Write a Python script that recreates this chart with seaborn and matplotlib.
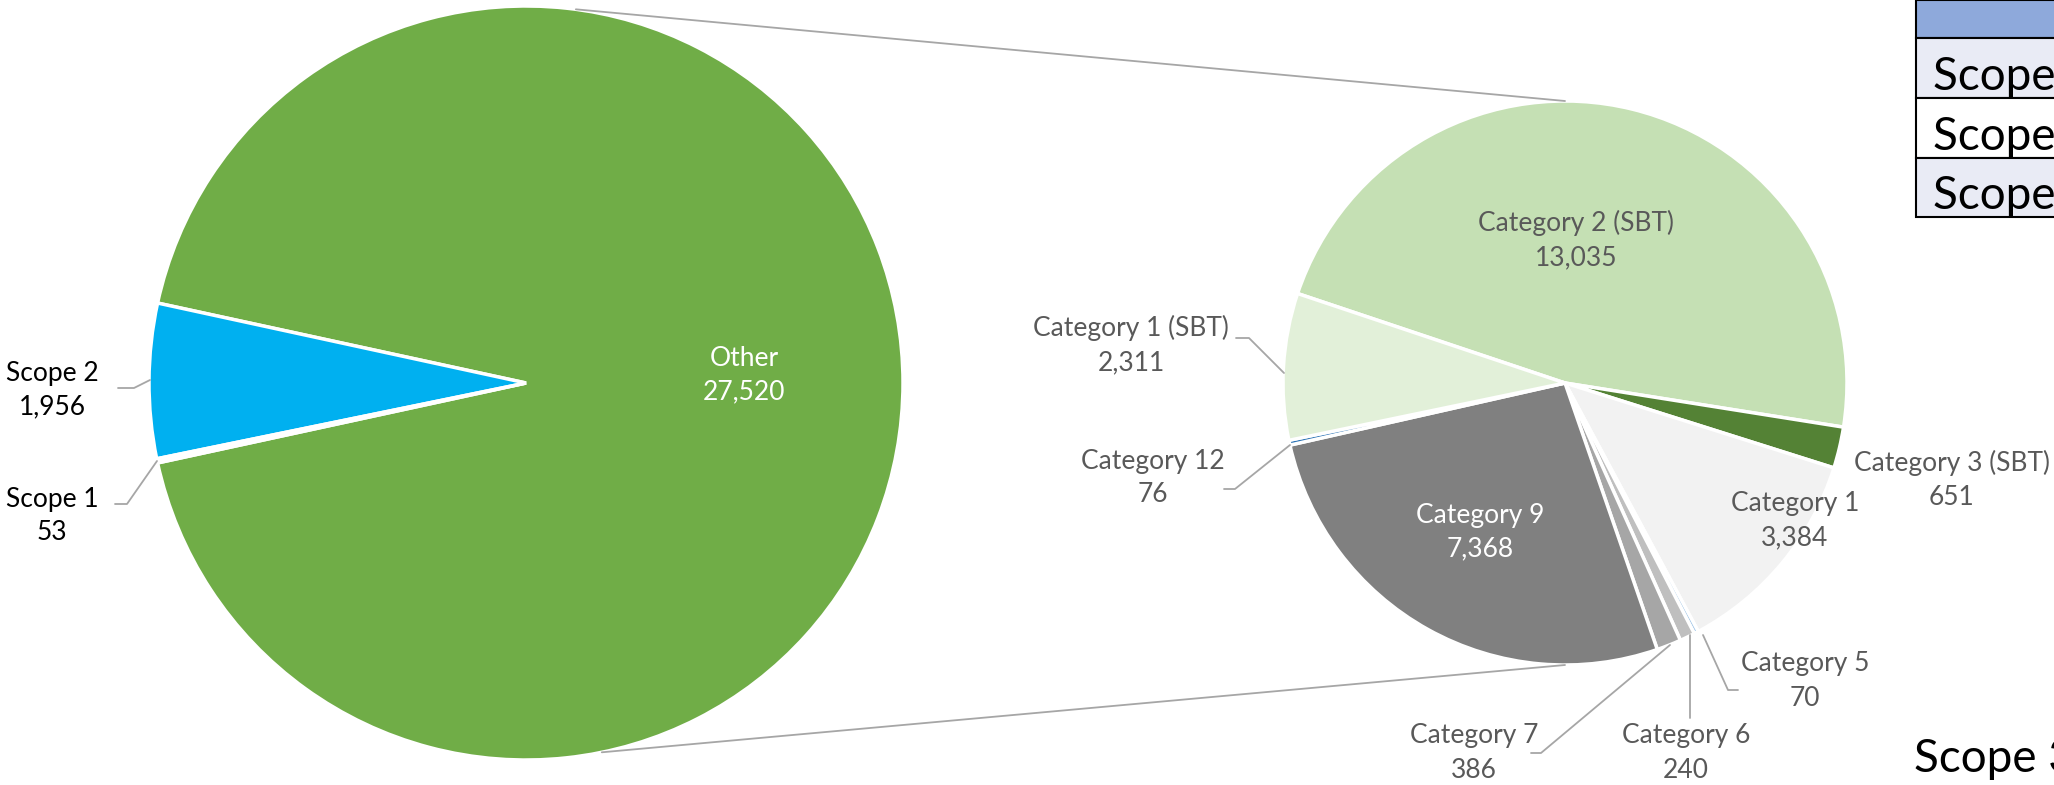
import numpy as np
import matplotlib.pyplot as plt
import seaborn as sns

sns.set_theme(style="white")
plt.rcParams['font.family'] = ['Lato', 'DejaVu Sans']

# data
scopes = ['Other', 'Scope 2', 'Scope 1']
scope_values = [27520, 1956, 53]
scope_colors = ['#70AD47', '#00B0F0', '#FFFFFF']

categories = ['Category 2 (SBT)', 'Category 3 (SBT)', 'Category 1', 'Category 5',
              'Category 6', 'Category 7', 'Category 9', 'Category 12', 'Category 1 (SBT)']
category_values = [13035, 651, 3384, 70, 240, 386, 7368, 76, 2311]
category_colors = ['#C5E0B4', '#548235', '#F2F2F2', '#9DC3E6',
                   '#BFBFBF', '#A6A6A6', '#808080', '#2E75B6', '#E2F0D9']

table_rows = ['Scope 1', 'Scope 2', 'Scope 3']

W, H = 2054, 785
fig = plt.figure(figsize=(W / 100, H / 100), dpi=100)
ax = fig.add_axes([0, 0, 1, 1])

def px(x, y):
    return x, H - y

c1, r1 = px(526, 383), 377
c2, r2 = px(1565, 383), 282

# main pie: "Other" wedge centred on the right
other_deg = 360 * scope_values[0] / sum(scope_values)
ax.pie(scope_values, colors=scope_colors, center=c1, radius=r1,
       startangle=-other_deg / 2, counterclock=True,
       wedgeprops=dict(edgecolor='white', linewidth=2.5))

# secondary pie: breakdown of "Other"
ax.pie(category_values, colors=category_colors, center=c2, radius=r2,
       startangle=161.5, counterclock=False,
       wedgeprops=dict(edgecolor='white', linewidth=2.5))

# connector lines
line_col = '#A6A6A6'
for a, side in [(82.4, 1), (-78.4, -1)]:
    t = np.deg2rad(a)
    x0, y0 = c1[0] + r1 * np.cos(t), c1[1] + r1 * np.sin(t)
    ax.plot([x0, c2[0]], [y0, c2[1] + side * r2], color=line_col, lw=1.3)

# labels
fs = 19
def label(name, value, x, y, color='#595959'):
    ax.text(*px(x, y), f"{name}\n{value:,}", ha='center', va='center',
            fontsize=fs, color=color, linespacing=1.45)

label('Other', 27520, 744, 375, 'white')
label('Scope 2', 1956, 52, 390, 'black')
label('Scope 1', 53, 52, 516, 'black')
label('Category 2 (SBT)', 13035, 1576, 240)
label('Category 1 (SBT)', 2311, 1131, 345)
label('Category 12', 76, 1153, 478)
label('Category 9', 7368, 1480, 532, 'white')
label('Category 1', 3384, 1795, 521)
label('Category 3 (SBT)', 651, 1952, 480)
label('Category 5', 70, 1805, 681)
label('Category 6', 240, 1686, 753)
label('Category 7', 386, 1474, 753)

leaders = [
    [(118, 388), (134, 388), (150, 380)],
    [(115, 504), (127, 504), (157, 461)],
    [(1236, 338), (1249, 338), (1284, 373)],
    [(1224, 489), (1235, 489), (1290, 445)],
    [(1738, 690), (1728, 690), (1703, 635)],
    [(1690, 718), (1690, 635)],
    [(1531, 753), (1541, 753), (1670, 645)],
]
for pts in leaders:
    xs, ys = zip(*[px(x, y) for x, y in pts])
    ax.plot(xs, ys, color=line_col, lw=1.3)

# partially visible table at top right
row_top = [0, 38, 98, 158]
row_bot = [38, 98, 158, 217]
row_fill = ['#8EA9DB', '#E9EBF5', '#FFFFFF', '#E9EBF5']
for top, bot, fill in zip(row_top, row_bot, row_fill):
    ax.add_patch(plt.Rectangle(px(1916, bot), 200, bot - top, facecolor=fill,
                               edgecolor='black', lw=1.5, clip_on=False))
for i, name in enumerate(table_rows):
    ax.text(*px(1933, row_bot[i + 1] - 8), name, ha='left', va='baseline',
            fontsize=33, color='black')

ax.text(*px(1914, 772), 'Scope 3', ha='left', va='baseline', fontsize=33, color='black')

ax.set_xlim(0, W)
ax.set_ylim(0, H)
ax.set_aspect('equal')
ax.axis('off')

fig.savefig('out.png', dpi=100)
